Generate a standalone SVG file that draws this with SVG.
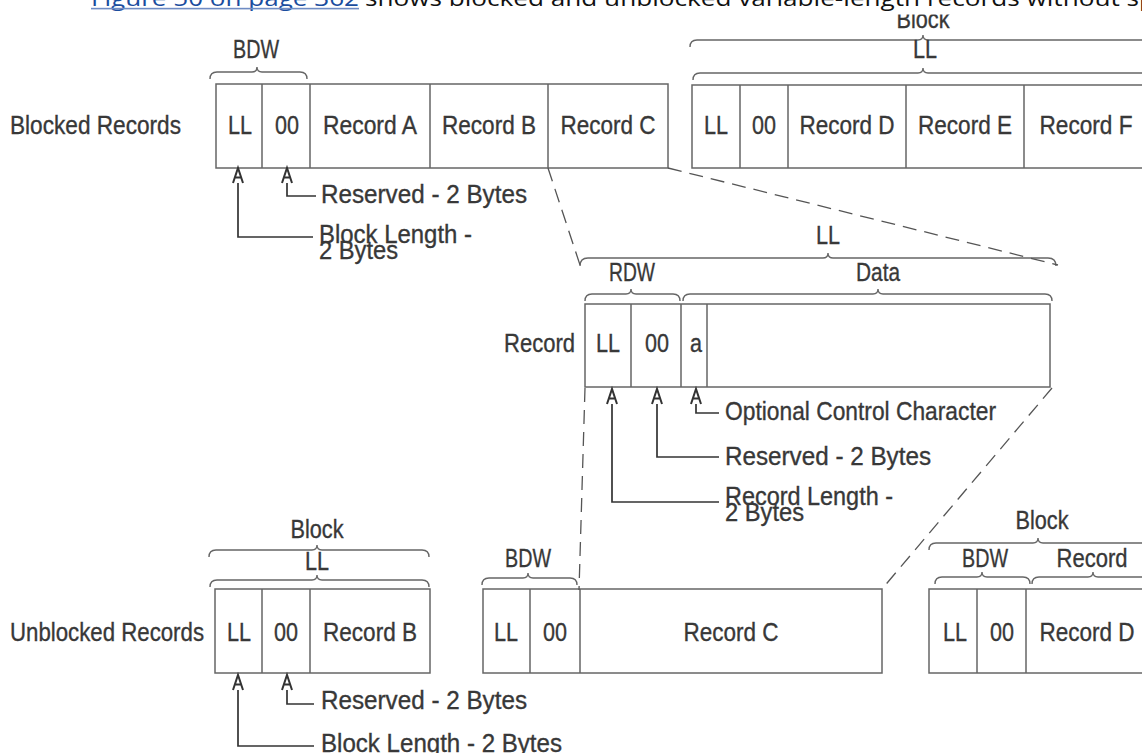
<svg xmlns="http://www.w3.org/2000/svg" width="1142" height="753" viewBox="0 0 1142 753">
<style>
.t{font-family:"Liberation Sans",Arial,sans-serif;font-size:26px;fill:#383838;stroke:#383838;stroke-width:0.35}
.m{text-anchor:middle}
.e{text-anchor:end}
.box{fill:#fff;stroke:#666;stroke-width:1.5}
.dv{stroke:#666;stroke-width:1.5}
.br{fill:none;stroke:#666;stroke-width:1.4}
.ar{fill:none;stroke:#333;stroke-width:1.7;marker-start:url(#ah)}
.da{fill:none;stroke:#555;stroke-width:1.3;stroke-dasharray:14 8}
.p{font-family:"Open Sans","Noto Sans",sans-serif;font-size:22px;fill:#111}
</style>
<defs>
<marker id="ah" markerUnits="userSpaceOnUse" orient="auto-start-reverse" refX="-15" refY="0" markerWidth="30" markerHeight="30" viewBox="-20 -10 30 20" overflow="visible">
<path d="M-15,-5 L0,0 L-15,5 M-9.5,-3.2 L-9.5,3.2" fill="none" stroke="#333" stroke-width="2"/>
</marker>
</defs>
<rect width="1142" height="753" fill="#fff"/>

<g id="blocked-label"><text class="t" x="10" y="134" textLength="171" lengthAdjust="spacingAndGlyphs">Blocked Records</text></g>

<g id="block-abc">
<path class="br" d="M210,79 Q210,72 217,72 L252,72 Q257,72 257,67 Q257,72 262,72 L300,72 Q307,72 307,79"/>
<text class="t m" x="256" y="58" textLength="46" lengthAdjust="spacingAndGlyphs">BDW</text>
<rect class="box" x="216" y="84" width="452" height="84"/>
<path class="dv" d="M262,84V168M310,84V168M430,84V168M548,84V168"/>
<text class="t m" x="240" y="134" textLength="24" lengthAdjust="spacingAndGlyphs">LL</text>
<text class="t m" x="287" y="134" textLength="24" lengthAdjust="spacingAndGlyphs">00</text>
<text class="t m" x="370" y="134" textLength="94" lengthAdjust="spacingAndGlyphs">Record A</text>
<text class="t m" x="489" y="134" textLength="94" lengthAdjust="spacingAndGlyphs">Record B</text>
<text class="t m" x="608" y="134" textLength="95" lengthAdjust="spacingAndGlyphs">Record C</text>
</g>

<g id="block-def">
<text class="t m" x="923" y="28" textLength="53" lengthAdjust="spacingAndGlyphs">Block</text>
<path class="br" d="M690,47 Q690,40 697,40 L918,40 Q923,40 923,35 Q923,40 928,40 L1200,40"/>
<text class="t m" x="925" y="58" textLength="24" lengthAdjust="spacingAndGlyphs">LL</text>
<path class="br" d="M693,80 Q693,73 700,73 L918,73 Q923,73 923,68 Q923,73 928,73 L1200,73"/>
<rect class="box" x="692" y="85" width="480" height="83"/>
<path class="dv" d="M740,85V168M788,85V168M906,85V168M1024,85V168"/>
<text class="t m" x="716" y="134" textLength="24" lengthAdjust="spacingAndGlyphs">LL</text>
<text class="t m" x="764" y="134" textLength="24" lengthAdjust="spacingAndGlyphs">00</text>
<text class="t m" x="847" y="134" textLength="95" lengthAdjust="spacingAndGlyphs">Record D</text>
<text class="t m" x="965" y="134" textLength="94" lengthAdjust="spacingAndGlyphs">Record E</text>
<text class="t m" x="1086" y="134" textLength="93" lengthAdjust="spacingAndGlyphs">Record F</text>
</g>

<g id="record">
<text class="t m" x="828" y="244" textLength="24" lengthAdjust="spacingAndGlyphs">LL</text>
<path class="br" d="M580,266 Q580,258 588,258 L823,258 Q828,258 828,253 Q828,258 833,258 L1048,258 Q1056,258 1056,266"/>
<text class="t m" x="632" y="281" textLength="46" lengthAdjust="spacingAndGlyphs">RDW</text>
<text class="t m" x="878" y="281" textLength="44" lengthAdjust="spacingAndGlyphs">Data</text>
<path class="br" d="M585,301 Q585,294 592,294 L626,294 Q631,294 631,289 Q631,294 636,294 L673,294 Q680,294 680,301"/>
<path class="br" d="M683,301 Q683,294 690,294 L873,294 Q878,294 878,289 Q878,294 883,294 L1045,294 Q1052,294 1052,301"/>
<text class="t e" x="575" y="352" textLength="71" lengthAdjust="spacingAndGlyphs">Record</text>
<rect class="box" x="585" y="304" width="465" height="83"/>
<path class="dv" d="M631,304V387M681,304V387M707,304V387"/>
<text class="t m" x="608" y="352" textLength="24" lengthAdjust="spacingAndGlyphs">LL</text>
<text class="t m" x="657" y="352" textLength="24" lengthAdjust="spacingAndGlyphs">00</text>
<text class="t m" x="696" y="352" textLength="12" lengthAdjust="spacingAndGlyphs">a</text>
</g>

<g id="unblocked-label"><text class="t" x="10" y="641" textLength="194" lengthAdjust="spacingAndGlyphs">Unblocked Records</text></g>

<g id="unblocked-b">
<text class="t m" x="317" y="538" textLength="53" lengthAdjust="spacingAndGlyphs">Block</text>
<path class="br" d="M209,557 Q209,550 216,550 L312,550 Q317,550 317,545 Q317,550 322,550 L422,550 Q429,550 429,557"/>
<text class="t m" x="317" y="570" textLength="24" lengthAdjust="spacingAndGlyphs">LL</text>
<path class="br" d="M210,587 Q210,580 217,580 L312,580 Q317,580 317,575 Q317,580 322,580 L422,580 Q429,580 429,587"/>
<rect class="box" x="215" y="589" width="215" height="84"/>
<path class="dv" d="M262,589V673M310,589V673"/>
<text class="t m" x="239" y="641" textLength="24" lengthAdjust="spacingAndGlyphs">LL</text>
<text class="t m" x="286" y="641" textLength="24" lengthAdjust="spacingAndGlyphs">00</text>
<text class="t m" x="370" y="641" textLength="94" lengthAdjust="spacingAndGlyphs">Record B</text>
</g>

<g id="unblocked-c">
<text class="t m" x="528" y="567" textLength="46" lengthAdjust="spacingAndGlyphs">BDW</text>
<path class="br" d="M482,585 Q482,578 489,578 L523,578 Q528,578 528,573 Q528,578 533,578 L570,578 Q577,578 577,585"/>
<rect class="box" x="483" y="589" width="399" height="84"/>
<path class="dv" d="M530,589V673M580,589V673"/>
<text class="t m" x="506" y="641" textLength="24" lengthAdjust="spacingAndGlyphs">LL</text>
<text class="t m" x="555" y="641" textLength="24" lengthAdjust="spacingAndGlyphs">00</text>
<text class="t m" x="731" y="641" textLength="95" lengthAdjust="spacingAndGlyphs">Record C</text>
</g>

<g id="unblocked-d">
<text class="t m" x="1042" y="529" textLength="53" lengthAdjust="spacingAndGlyphs">Block</text>
<path class="br" d="M929,550 Q929,543 936,543 L1033,543 Q1038,543 1038,538 Q1038,543 1043,543 L1200,543"/>
<text class="t m" x="985" y="567" textLength="46" lengthAdjust="spacingAndGlyphs">BDW</text>
<text class="t m" x="1092" y="567" textLength="71" lengthAdjust="spacingAndGlyphs">Record</text>
<path class="br" d="M935,584 Q935,577 942,577 L977,577 Q982,577 982,572 Q982,577 987,577 L1023,577 Q1030,577 1030,584"/>
<path class="br" d="M1032,584 Q1032,577 1039,577 L1088,577 Q1093,577 1093,572 Q1093,577 1098,577 L1200,577"/>
<rect class="box" x="929" y="589" width="260" height="84"/>
<path class="dv" d="M977,589V673M1026,589V673"/>
<text class="t m" x="955" y="641" textLength="24" lengthAdjust="spacingAndGlyphs">LL</text>
<text class="t m" x="1002" y="641" textLength="24" lengthAdjust="spacingAndGlyphs">00</text>
<text class="t m" x="1087" y="641" textLength="95" lengthAdjust="spacingAndGlyphs">Record D</text>
</g>

<g id="connectors">
<path class="da" d="M548,168 L581,268"/>
<path class="da" d="M668,168 L1058,265"/>
<path class="da" d="M585,388 L579,590"/>
<path class="da" d="M1052,388 L882,589"/>
<path class="ar" d="M238,183 V237 H313"/>
<path class="ar" d="M287,183 V196 H316"/>
<path class="ar" d="M612,404 V502 H719"/>
<path class="ar" d="M657,404 V457 H719"/>
<path class="ar" d="M696,404 V413 H719"/>
<path class="ar" d="M238,690 V746 H314"/>
<path class="ar" d="M287,690 V704 H314"/>
</g>

<g id="annotations">
<text class="t" x="321" y="203" textLength="206" lengthAdjust="spacingAndGlyphs">Reserved - 2 Bytes</text>
<text class="t" x="319" y="243" textLength="153" lengthAdjust="spacingAndGlyphs">Block Length -</text>
<text class="t" x="319" y="259" textLength="79" lengthAdjust="spacingAndGlyphs">2 Bytes</text>
<text class="t" x="725" y="420" textLength="271" lengthAdjust="spacingAndGlyphs">Optional Control Character</text>
<text class="t" x="725" y="465" textLength="206" lengthAdjust="spacingAndGlyphs">Reserved - 2 Bytes</text>
<text class="t" x="725" y="505" textLength="168" lengthAdjust="spacingAndGlyphs">Record Length -</text>
<text class="t" x="725" y="521" textLength="79" lengthAdjust="spacingAndGlyphs">2 Bytes</text>
<text class="t" x="321" y="709" textLength="206" lengthAdjust="spacingAndGlyphs">Reserved - 2 Bytes</text>
<text class="t" x="321" y="752" textLength="241" lengthAdjust="spacingAndGlyphs">Block Length - 2 Bytes</text>
</g>

<g id="paragraph">
<rect x="0" y="0" width="1142" height="14.5" fill="#fff"/>
<text class="p" x="91" y="6" style="fill:#1a4d9e" textLength="268" lengthAdjust="spacingAndGlyphs">Figure 50 on page 362</text>
<rect x="91" y="7.8" width="268" height="1.6" fill="#6f8cc4"/>
<text class="p" x="365" y="6" textLength="790" lengthAdjust="spacingAndGlyphs">shows blocked and unblocked variable-length records without sp</text>
</g>
</svg>
